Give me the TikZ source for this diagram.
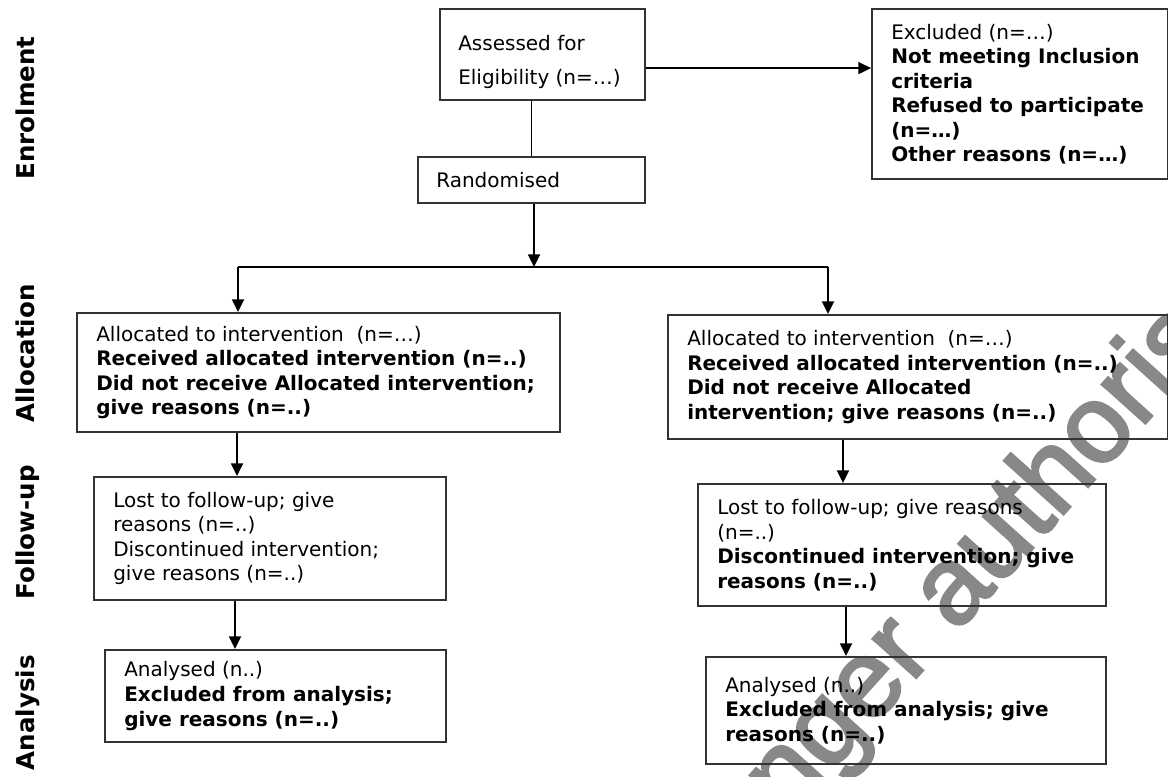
\documentclass[tikz,border=0pt]{standalone}
\usepackage{fontspec}
\setmainfont{DejaVu Sans}
\newfontfamily\wmfont[FakeBold=2.5]{Liberation Sans}
\usetikzlibrary{arrows.meta,calc}
\definecolor{boxgrey}{HTML}{333333}
\definecolor{wmgrey}{HTML}{888888}
\begin{document}
\begin{tikzpicture}[x=0.75pt,y=-0.75pt,
  box/.style={draw=boxgrey, line width=1.6pt, inner sep=0pt, anchor=north west},
  txt/.style={align=left, inner sep=0pt, anchor=west, font=\fontsize{15}{18.4}\selectfont},
  lab/.style={rotate=90, anchor=base, inner sep=0pt, font=\bfseries\fontsize{18.4}{20}\selectfont},
  arr/.style={line width=1.35pt, -{Triangle[length=9.5pt,width=9pt]}},
  ln/.style={line width=1.35pt},
  wm/.style={text=wmgrey, inner sep=0pt, font=\wmfont\fontsize{82.5}{90}\selectfont}]
\useasboundingbox (0,0) rectangle (1168,776);
% watermark (beneath everything)
\begin{scope}
  \clip (0,0) rectangle (1168,776);
  \node[wm, rotate=48, anchor=base west] (wmark) at (616.5,1010.5) {No longer authorised};
\end{scope}
% side labels
\node[lab] (lEnrol) at (35,108) {Enrolment};
\node[lab] (lAlloc) at (35,353.5) {Allocation};
\node[lab] (lFollow) at (35,532.5) {Follow-up};
\node[lab] (lAnal) at (35,712.5) {Analysis};
% boxes
\node[box, minimum width=153.75pt, minimum height=68.25pt] (assess) at (439,8) {};
\node[box, minimum width=170.25pt, minimum height=34.5pt] (rand) at (417,156) {};
\node[box, minimum width=222pt, minimum height=127.5pt] (excl) at (871,8) {};
\node[box, minimum width=362.25pt, minimum height=89.25pt] (allocL) at (76,312) {};
\node[box, minimum width=375pt, minimum height=93pt] (allocR) at (667,314) {};
\node[box, minimum width=264pt, minimum height=92.25pt] (fuL) at (93,476) {};
\node[box, minimum width=306pt, minimum height=91.5pt] (fuR) at (697,483) {};
\node[box, minimum width=255.75pt, minimum height=69pt] (anL) at (104,649) {};
\node[box, minimum width=300pt, minimum height=80.25pt] (anR) at (705,656) {};
% texts
\node[txt] (assessT) at ($(assess.west)+(19,0)$) {\rule{0pt}{23pt}Assessed for\\[7pt]Eligibility (n=…)};
\node[txt] (randT) at ($(rand.west)+(19,0)$) {Randomised};
\node[txt] (exclT) at ($(excl.west)+(20,0)$) {Excluded (n=…)\\\textbf{Not meeting Inclusion}\\\textbf{criteria}\\\textbf{Refused to participate}\\\textbf{(n=…)}\\\textbf{Other reasons (n=…)}};
\node[txt] (allocLT) at ($(allocL.west)+(20,0)$) {Allocated to intervention~~(n=…)\\\textbf{Received allocated intervention (n=..)}\\\textbf{Did not receive Allocated intervention;}\\\textbf{give reasons (n=..)}};
\node[txt] (allocRT) at ($(allocR.west)+(20,0)$) {Allocated to intervention~~(n=…)\\\textbf{Received allocated intervention (n=..)}\\\textbf{Did not receive Allocated}\\\textbf{intervention; give reasons (n=..)}};
\node[txt] (fuLT) at ($(fuL.west)+(20,0)$) {Lost to follow-up; give\\reasons (n=..)\\Discontinued intervention;\\give reasons (n=..)};
\node[txt] (fuRT) at ($(fuR.west)+(20,0)$) {Lost to follow-up; give reasons\\(n=..)\\\textbf{Discontinued intervention; give}\\\textbf{reasons (n=..)}};
\node[txt] (anLT) at ($(anL.west)+(20,0)$) {Analysed (n..)\\\textbf{Excluded from analysis;}\\\textbf{give reasons (n=..)}};
\node[txt] (anRT) at ($(anR.west)+(20,0)$) {Analysed (n..)\\\textbf{Excluded from analysis; give}\\\textbf{reasons (n=..)}};
% connector coordinates
\coordinate (a1) at ($(assess.east)+(0,13.5)$);
\coordinate (split) at (534,267);
\coordinate (sL) at (238,267);
\coordinate (sR) at (828,267);
\coordinate (cL1) at (237,0);
\coordinate (cL2) at (235,0);
\coordinate (cR1) at (843,0);
\coordinate (cR2) at (846,0);
% connectors
\draw[ln] (rand.north) -- (rand.north |- assess.south);
\draw[arr] (a1) -- (a1 -| excl.west);
\draw[arr] (rand.south -| split) -- (split);
\draw[ln] (sL) -- (sR);
\draw[arr] (sL) -- (sL |- allocL.north);
\draw[arr] (sR) -- (sR |- allocR.north);
\draw[arr] (allocL.south -| cL1) -- (fuL.north -| cL1);
\draw[arr] (fuL.south -| cL2) -- (anL.north -| cL2);
\draw[arr] (allocR.south -| cR1) -- (fuR.north -| cR1);
\draw[arr] (fuR.south -| cR2) -- (anR.north -| cR2);
\end{tikzpicture}
\end{document}
